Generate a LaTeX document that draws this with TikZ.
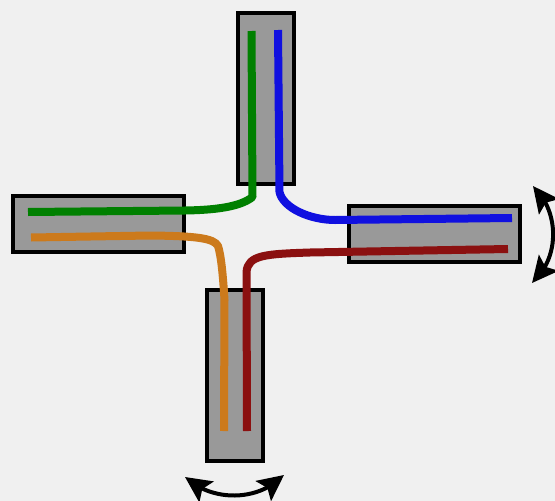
\documentclass[tikz,border=0pt]{standalone}
\usetikzlibrary{arrows.meta,bending}
\definecolor{bg}{HTML}{F0F0F0}
\definecolor{boxgray}{HTML}{999999}
\definecolor{wgreen}{HTML}{008000}
\definecolor{wblue}{HTML}{1010E0}
\definecolor{worange}{HTML}{CC7A1C}
\definecolor{wred}{HTML}{8B1010}
\tikzset{
  port/.style={draw=black,fill=boxgray,line width=3.6pt,inner sep=0pt,outer sep=0pt,anchor=north west},
  wire/.style={line width=8pt,line cap=butt,line join=round},
  swing/.style={line width=4pt,{Stealth[length=26pt,width=25pt,inset=5pt,flex=0.9]}-{Stealth[length=26pt,width=25pt,inset=5pt,flex=0.9]}}
}
\begin{document}
\begin{tikzpicture}[x=1pt,y=-1pt]
\useasboundingbox (0,0) rectangle (555,501);
\fill[bg] (0,0) rectangle (555,501);
\node[port,minimum width=56pt,minimum height=171pt] (top) at (238,13) {};
\node[port,minimum width=171pt,minimum height=56pt] (left) at (13,196) {};
\node[port,minimum width=171pt,minimum height=56pt] (right) at (349,206) {};
\node[port,minimum width=56pt,minimum height=171pt] (bottom) at (207,290) {};
\coordinate (ga) at (251.5,31);
\coordinate (gb) at (28,212);
\coordinate (ba) at (278,30);
\coordinate (bb) at (512,218);
\coordinate (oa) at (31,237.5);
\coordinate (ob) at (224,431);
\coordinate (ra) at (508,249);
\coordinate (rb) at (247,431);
\draw[wire,wgreen] (ga) -- (252.5,197) .. controls (240,207) and (215,210) .. (185,210.5) -- (gb);
\draw[wire,wblue] (ba) -- (279.5,192) .. controls (283,208) and (310,220) .. (335,220) -- (bb);
\draw[wire,worange] (oa) -- (150,235.5) .. controls (195,236) and (214,238) .. (218,246) .. controls (221,255) and (223,275) .. (224.5,300) -- (ob);
\draw[wire,wred] (ra) -- (310,252.5) .. controls (265,254) and (248,255) .. (246.5,272) -- (rb);
\coordinate (a1) at (185,477);
\coordinate (a2) at (284,475);
\coordinate (b1) at (533,186);
\coordinate (b2) at (532,283);
\draw[swing] (a1) .. controls (212,502) and (258,502) .. (a2);
\draw[swing] (b1) .. controls (560,212) and (560,258) .. (b2);
\end{tikzpicture}
\end{document}
